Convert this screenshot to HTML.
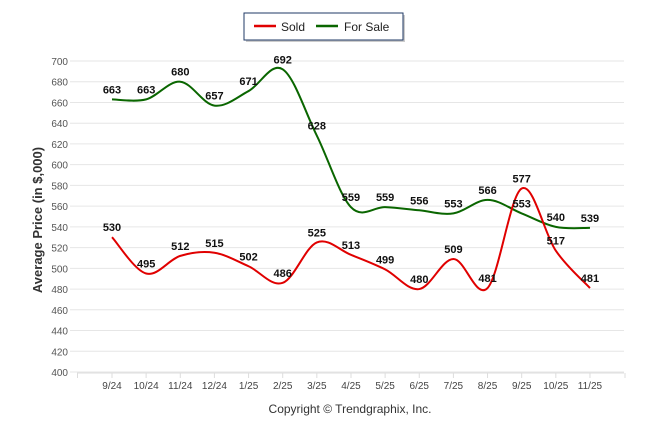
<!DOCTYPE html>
<html><head><meta charset="utf-8"><style>
body{margin:0;background:#fff;}
svg{display:block;font-family:"Liberation Sans",Arial,sans-serif;}
</style></head><body>
<svg id="chart" width="646" height="434">
<g>
<rect x="246" y="15" width="159" height="27" fill="#999" opacity="0.5"/>
<rect x="244" y="13" width="159" height="27" fill="#fff" stroke="#1f3864" stroke-width="1"/>
<line x1="254" y1="26" x2="276" y2="26" stroke="#e00000" stroke-width="2.5"/>
<text x="281" y="31" font-size="12" fill="#222">Sold</text>
<line x1="316" y1="26" x2="338" y2="26" stroke="#0a6600" stroke-width="2.5"/>
<text x="344" y="31" font-size="12" fill="#222">For Sale</text>
</g>
<text transform="translate(42,220) rotate(-90)" text-anchor="middle" font-size="13" font-weight="bold" fill="#333">Average Price (in $,000)</text>
<text x="350" y="413" text-anchor="middle" font-size="12" fill="#333">Copyright © Trendgraphix, Inc.</text>
<g id="grid"></g><g id="series"></g><g id="labels"></g>
</svg>
<script>
const categories=["9/24","10/24","11/24","12/24","1/25","2/25","3/25","4/25","5/25","6/25","7/25","8/25","9/25","10/25","11/25"];
const soldValues=[530,495,512,515,502,486,525,513,499,480,509,481,577,517,481];
const forSaleValues=[663,663,680,657,671,692,628,559,559,556,553,566,553,540,539];
const yTicks=[400,420,440,460,480,500,520,540,560,580,600,620,640,660,680,700];
const NS="http://www.w3.org/2000/svg";
const yMin=400,yMax=700,yTop=61,yBot=372,xL=70,xR=624;
function y(v){return yBot-(v-yMin)/(yMax-yMin)*(yBot-yTop);}
function x(i){return 112+i*34.14;}
function mk(t,a,p){const e=document.createElementNS(NS,t);for(const k in a)e.setAttribute(k,a[k]);p.appendChild(e);return e;}
const grid=document.getElementById('grid');
yTicks.forEach(v=>{
 const l=mk('line',{x1:xL,x2:xR,y1:y(v),y2:y(v),stroke:'#e6e6e6','stroke-width':1},grid);
 
 
 const t=mk('text',{x:68,y:y(v)+4,'text-anchor':'end','font-size':10,fill:'#555'},grid);
 t.textContent=v;
 
 
});
const ax=mk('line',{x1:xL+7,x2:xR,y1:yBot+1,y2:yBot+1,stroke:'#ddd'},grid);


[77.5,625].concat(categories.map((c,i)=>x(i))).forEach(px=>{mk('line',{x1:px,x2:px,y1:yBot+1,y2:yBot+6,stroke:'#ddd'},grid);});
categories.forEach((c,i)=>{
 const t=mk('text',{x:x(i),y:389,'text-anchor':'middle','font-size':10,fill:'#444'},grid);
 t.textContent=c;
 
 
});
function path(vals){
 const p=vals.map((v,i)=>[x(i),y(v)]);
 let d='M'+p[0][0]+','+p[0][1];
 for(let i=0;i<p.length-1;i++){
  const p0=p[Math.max(0,i-1)],p1=p[i],p2=p[i+1],p3=p[Math.min(p.length-1,i+2)];
  const k=0.17;
  d+=' C'+(p1[0]+(p2[0]-p0[0])*k)+','+(p1[1]+(p2[1]-p0[1])*k)+' '+(p2[0]-(p3[0]-p1[0])*k)+','+(p2[1]-(p3[1]-p1[1])*k)+' '+p2[0]+','+p2[1];
 }
 return d;
}
const s=document.getElementById('series'),lb=document.getElementById('labels');
[[forSaleValues,'#0a6600','for-sale-line'],[soldValues,'#e00000','sold-line']].forEach(([vals,col,name])=>{
 const e=mk('path',{d:path(vals),fill:'none',stroke:col,'stroke-width':2},s);
 
 
 vals.forEach((v,i)=>{
  const t=mk('text',{x:x(i),y:y(v)-6,'text-anchor':'middle','font-size':11,'font-weight':'bold',fill:'#111'},lb);
  t.textContent=v;
  
  
 });
});
</script>
</body></html>
